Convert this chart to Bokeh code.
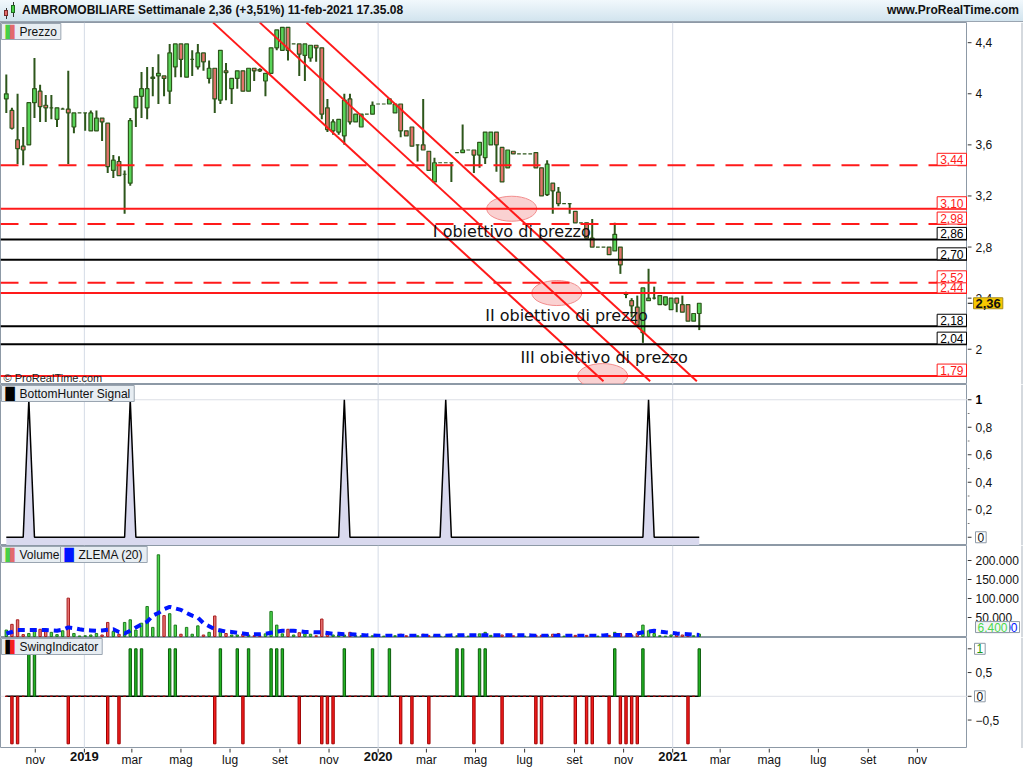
import pandas as pd
from bokeh.plotting import figure
from bokeh.models import Range1d, Label, Span, Div, ColumnDataSource
from bokeh.layouts import column, row
from bokeh.embed import file_html
from bokeh.resources import INLINE
from bokeh.core.properties import value

# ---------------- data ----------------
TITLE = "AMBROMOBILIARE Settimanale 2,36 (+3,51%) 11-feb-2021 17.35.08"
SITE = "www.ProRealTime.com"
# position of the most recent weekly bar on the time axis
LAST_BAR_POSITION = "2021-02-03"

OPEN = [3.96, 3.87, 3.64, 3.59, 3.60, 3.93, 4.02, 3.91, 3.89, 3.80,
        3.88, 3.88, 3.74, 3.85, 3.85, 3.71, 3.71, 3.81, 3.77, 3.40,
        3.47, 3.37, 3.30, 3.89, 3.98, 3.89, 4.12, 4.14, 4.14, 4.02,
        4.21, 4.39, 4.13, 4.27, 4.21, 4.32, 4.12, 4.20, 3.95, 4.18,
        4.04, 4.12, 4.18, 4.02, 4.20, 4.19, 4.10, 4.16, 4.36, 4.34,
        4.52, 4.39, 4.39, 4.30, 4.28, 4.38, 4.36, 3.89, 3.71, 3.70,
        3.67, 3.96, 3.78, 3.74, 3.84, 3.84, 3.92, 3.92, 3.92, 3.85,
        3.92, 3.71, 3.74, 3.60, 3.60, 3.55, 3.31, 3.46, 3.46, 3.46,
        3.54, 3.54, 3.56, 3.56, 3.52, 3.50, 3.60, 3.70, 3.58, 3.42,
        3.55, 3.53, 3.53, 3.53, 3.54, 3.42, 3.21, 3.30, 3.23, 3.14,
        3.14, 3.08, 2.99, 2.99, 2.87, 2.80, 2.80, 2.80, 2.77, 2.80,
        2.44, 2.38, 2.33, 2.13, 2.38, 2.40, 2.35, 2.35, 2.31, 2.40,
        2.35, 2.35, 2.22, 2.28]
HIGH = [4.15, 3.89, 4.00, 3.74, 3.93, 4.28, 4.07, 3.99, 3.99, 3.89,
        3.89, 4.18, 3.85, 3.85, 3.85, 3.87, 3.87, 3.81, 3.77, 3.52,
        3.51, 3.40, 3.81, 3.98, 4.17, 4.21, 4.21, 4.31, 4.14, 4.39,
        4.39, 4.39, 4.39, 4.34, 4.39, 4.32, 4.26, 4.20, 4.34, 4.24,
        4.12, 4.18, 4.18, 4.20, 4.20, 4.20, 4.16, 4.36, 4.50, 4.52,
        4.52, 4.39, 4.39, 4.39, 4.38, 4.38, 4.36, 3.96, 3.80, 3.80,
        4.00, 4.00, 3.84, 3.84, 3.84, 3.94, 3.92, 3.92, 3.96, 3.92,
        3.92, 3.71, 3.74, 3.60, 3.96, 3.55, 3.50, 3.46, 3.46, 3.46,
        3.54, 3.76, 3.56, 3.56, 3.62, 3.70, 3.70, 3.70, 3.58, 3.56,
        3.55, 3.53, 3.53, 3.53, 3.54, 3.42, 3.48, 3.30, 3.27, 3.14,
        3.14, 3.08, 2.99, 2.99, 3.02, 2.80, 2.80, 2.80, 2.99, 2.80,
        2.45, 2.40, 2.42, 2.48, 2.63, 2.49, 2.42, 2.41, 2.40, 2.40,
        2.42, 2.35, 2.28, 2.36]
LOW = [3.85, 3.72, 3.45, 3.44, 3.60, 3.81, 3.78, 3.78, 3.80, 3.74,
       3.88, 3.45, 3.69, 3.85, 3.71, 3.71, 3.71, 3.63, 3.38, 3.34,
       3.36, 3.06, 3.28, 3.74, 3.81, 3.80, 3.98, 3.92, 3.98, 3.92,
       4.13, 4.13, 4.13, 4.14, 4.19, 4.18, 4.08, 3.85, 3.92, 3.95,
       3.92, 4.04, 4.02, 4.02, 4.10, 4.17, 3.98, 4.16, 4.34, 4.34,
       4.26, 4.39, 4.14, 4.10, 4.25, 4.25, 3.80, 3.70, 3.68, 3.68,
       3.60, 3.76, 3.78, 3.74, 3.84, 3.84, 3.92, 3.92, 3.92, 3.85,
       3.66, 3.67, 3.59, 3.47, 3.56, 3.40, 3.31, 3.46, 3.46, 3.31,
       3.54, 3.54, 3.56, 3.38, 3.42, 3.45, 3.60, 3.39, 3.31, 3.42,
       3.53, 3.53, 3.53, 3.53, 3.42, 3.20, 3.20, 3.06, 3.12, 3.14,
       3.06, 2.99, 2.99, 2.87, 2.80, 2.80, 2.80, 2.74, 2.77, 2.59,
       2.40, 2.25, 2.18, 2.05, 2.38, 2.39, 2.35, 2.34, 2.31, 2.29,
       2.29, 2.22, 2.22, 2.15]
CLOSE = [4.00, 3.73, 3.57, 3.56, 3.93, 4.04, 3.90, 3.89, 3.89, 3.89,
         3.88, 3.85, 3.85, 3.85, 3.85, 3.85, 3.81, 3.78, 3.43, 3.48,
         3.36, 3.37, 3.79, 3.98, 4.04, 4.04, 4.13, 4.16, 4.12, 4.32,
         4.39, 4.27, 4.39, 4.27, 4.32, 4.25, 4.20, 3.96, 4.34, 4.165,
         4.12, 4.18, 4.02, 4.20, 4.18, 4.18, 4.16, 4.36, 4.50, 4.52,
         4.34, 4.39, 4.31, 4.39, 4.38, 4.36, 3.84, 3.72, 3.78, 3.80,
         3.95, 3.78, 3.84, 3.84, 3.84, 3.91, 3.92, 3.92, 3.96, 3.92,
         3.71, 3.67, 3.59, 3.60, 3.56, 3.40, 3.46, 3.46, 3.46, 3.46,
         3.54, 3.56, 3.56, 3.52, 3.62, 3.70, 3.70, 3.60, 3.31, 3.56,
         3.53, 3.53, 3.53, 3.53, 3.42, 3.20, 3.45, 3.24, 3.14, 3.14,
         3.14, 2.99, 2.99, 2.87, 2.80, 2.80, 2.80, 2.74, 2.90, 2.66,
         2.43, 2.34, 2.19, 2.48, 2.40, 2.40, 2.42, 2.41, 2.40, 2.36,
         2.29, 2.22, 2.28, 2.36]
VOLUME = [17000, 32000, 44000, 5000, 8000, 17000, 19000, 17000, 11000, 5000,
          15000, 101000, 8000, 1500, 2000, 4000, 8000, 4000, 37000, 13000,
          6000, 37000, 44000, 17000, 35000, 79000, 24000, 215000, 55000, 60000,
          30000, 6000, 24000, 6000, 28000, 4000, 11000, 54000, 19000, 8000,
          4000, 4000, 6000, 4000, 2000, 2000, 7000, 66000, 30000, 7000,
          19000, 4000, 10000, 7000, 6000, 2000, 46000, 8000, 4000, 4000,
          4000, 11000, 2000, 2000, 1000, 2000, 1000, 1000, 1000, 2000,
          6000, 2000, 4000, 2000, 6000, 2000, 2000, 1000, 1000, 1000,
          2000, 4000, 1000, 2000, 7000, 11000, 3000, 4000, 4000, 6000,
          2000, 1000, 1000, 1000, 3000, 3000, 4000, 6000, 8000, 1000,
          2000, 3000, 1000, 3000, 4000, 1000, 1000, 3000, 11000, 8000,
          2000, 4000, 8000, 30000, 15000, 8000, 2000, 1000, 4000, 6000,
          4000, 2000, 2000, 6400]
ZLEMA20 = [8000, 12000, 17000, 17000, 17000, 17000, 17000, 17000, 16000, 15000,
           18000, 24000, 22000, 19000, 17000, 16000, 15000, 16000, 18000, 19000,
           12000, 8000, 15000, 24000, 32000, 39000, 55000, 62000, 72000, 78000,
           74000, 70000, 62000, 55000, 50000, 35000, 27000, 19000, 16000, 13000,
           12000, 10000, 8000, 6000, 6000, 6000, 7000, 10000, 13000, 15000,
           15000, 15000, 14000, 12000, 12000, 11000, 11000, 9000, 7000, 7000,
           6000, 6000, 5000, 4000, 3000, 3000, 2000, 2000, 2000, 2000,
           2000, 2000, 2000, 2000, 2000, 2000, 2000, 2000, 2000, 3000,
           3000, 3000, 3000, 3000, 3000, 3000, 3000, 3000, 3000, 3000,
           3000, 3000, 3000, 3000, 2000, 2000, 2000, 2000, 2000, 2000,
           2000, 2000, 2000, 2000, 2000, 2000, 3000, 4000, 4000, 4000,
           4000, 4000, 8000, 11000, 13000, 15000, 13000, 11000, 10000, 8000,
           7000, 6000, 5000, 4000]
BOTTOM_HUNTER = [0, 0, 0, 0, 1, 0, 0, 0, 0, 0,
                 0, 0, 0, 0, 0, 0, 0, 0, 0, 0,
                 0, 0, 1, 0, 0, 0, 0, 0, 0, 0,
                 0, 0, 0, 0, 0, 0, 0, 0, 0, 0,
                 0, 0, 0, 0, 0, 0, 0, 0, 0, 0,
                 0, 0, 0, 0, 0, 0, 0, 0, 0, 0,
                 1, 0, 0, 0, 0, 0, 0, 0, 0, 0,
                 0, 0, 0, 0, 0, 0, 0, 0, 1, 0,
                 0, 0, 0, 0, 0, 0, 0, 0, 0, 0,
                 0, 0, 0, 0, 0, 0, 0, 0, 0, 0,
                 0, 0, 0, 0, 0, 0, 0, 0, 0, 0,
                 0, 0, 0, 0, 1, 0, 0, 0, 0, 0,
                 0, 0, 0, 0]
SWING = [0, -1, -1, 0, 1, 1, 0, 0, 0, 0,
         0, -1, 0, 0, 0, 0, 0, 0, -1, 0,
         -1, 0, 1, 1, 1, 0, 0, 0, 0, 1,
         1, 0, 0, 0, 0, 0, 0, -1, 1, 0,
         0, 1, -1, 1, 0, 0, 0, 1, 1, 1,
         0, 0, -1, 0, 0, 0, -1, -1, -1, 0,
         1, 0, 0, 0, 0, 1, 0, 0, 1, 0,
         -1, 0, -1, 0, 0, -1, 0, 0, 0, 0,
         1, 1, 0, -1, 1, 1, 0, 0, -1, 0,
         0, 0, 0, 0, -1, -1, 0, 0, 0, 0,
         0, -1, 0, -1, -1, 0, 0, -1, 1, -1,
         -1, -1, -1, 1, 0, 0, 0, 0, 0, 0,
         0, -1, 0, 1]

LEVELS = [3.44, 3.10, 2.98, 2.86, 2.70, 2.44, 2.52, 2.18, 2.04, 1.79]
LEVEL_KIND = ["red_dash", "red", "red_dash", "black", "black",
              "red", "red_dash", "black", "black", "red"]

CHANNEL_START_DATES = ["2019-06-10", "2019-08-07", "2019-10-04"]
CHANNEL_END_DATES = ["2020-10-07", "2020-12-04", "2021-01-31"]
CHANNEL_START_PRICE = [4.557, 4.557, 4.557]
CHANNEL_END_PRICE = [1.749, 1.749, 1.749]

TARGET_DATES = ["2020-06-15", "2020-08-10", "2020-10-06"]
TARGET_PRICES = [3.10, 2.44, 1.79]
TARGET_TEXTS = ["I obiettivo di prezzo", "II obiettivo di prezzo", "III obiettivo di prezzo"]
TEXT_DATES = ["2020-03-09", "2020-05-13", "2020-06-26"]
TEXT_PRICES = [2.925, 2.264, 1.937]

MONTH_NAMES = ["gen", "feb", "mar", "apr", "mag", "giu",
               "lug", "ago", "set", "ott", "nov", "dic"]
YEAR_LINES = ["2019-01-01", "2020-01-01", "2021-01-01"]

PRICE_TICKS = [2.0, 2.4, 2.8, 3.2, 3.6, 4.0, 4.4]
BH_TICKS = [0.2, 0.4, 0.6, 0.8]
BH_MINOR = [0.1, 0.3, 0.5, 0.7, 0.9]
VOL_TICKS = [50000, 100000, 150000, 200000]
SWING_TICKS = [-0.5, 0.5]

# ---------------- layout constants ----------------
DAY = 86400000.0


def ms(s):
    return pd.Timestamp(s).value / 1e6


def it_num(v, digits=2):
    s = ("%.*f" % (digits, v)).rstrip("0").rstrip(".")
    return s.replace(".", ",")


def it_thousands(v):
    return "{:,}".format(int(round(v))).replace(",", ".")


X_START, X_END = ms("2018-09-18 19:00"), ms("2022-01-02 07:00")
PRICE_RANGE = Range1d(1.724, 4.558)
BH_RANGE = Range1d(-0.060, 1.111)
VOL_RANGE = Range1d(-2600, 239500)
SWING_RANGE = Range1d(-1.099, 1.238)

W = 967
RB = 56
H_TITLE, H_PRICE, H_BH, H_VOL, H_SWING, H_AX = 22, 362, 161, 92, 111, 19
FONT = "Liberation Sans"
FRAME = "#8d99a6"
GRID = "#d5dbe6"
LEG_BG = "#e7edf2"
LEG_BORDER = "#9aa5b1"

dates = pd.date_range(end=LAST_BAR_POSITION, periods=len(CLOSE), freq="7D")
up = [c >= o for o, c in zip(OPEN, CLOSE)]

xr = Range1d(X_START, X_END)


def base_fig(fw, fh, x_range, y_range):
    p = figure(frame_width=fw, frame_height=fh, x_range=x_range, y_range=y_range,
               x_axis_location=None, y_axis_location=None, toolbar_location=None,
               output_backend="svg", min_border=0, background_fill_color="white",
               border_fill_color="white")
    p.grid.visible = False
    return p


def make_main(fh, yr):
    p = base_fig(W, fh, xr, yr)
    p.outline_line_color = FRAME
    p.outline_line_width = 1
    for d in YEAR_LINES:
        p.add_layout(Span(location=ms(d), dimension="height", line_color=GRID,
                          line_width=1, level="underlay"))
    return p


def make_side(fh, yr, ticks, labels, minor=()):
    s = base_fig(RB, fh, Range1d(0, RB), yr)
    s.outline_line_color = None
    s.add_layout(Span(location=RB - 1.5, dimension="height", line_color="#aab3bd",
                      line_width=1))
    s.segment(x0=0, y0=ticks, x1=4, y1=ticks, line_color="#333333", line_width=1)
    if minor:
        s.segment(x0=0, y0=list(minor), x1=2, y1=list(minor), line_color="#777777",
                  line_width=1)
    s.text(x=8, y=ticks, text=labels, text_font=value(FONT), text_font_size="12px",
           text_baseline="middle", text_align="left", text_color="#111111")
    return s


def legend_box(p, top, text, xoff, icons):
    p.add_layout(Label(x=X_START, y=top, x_offset=xoff, y_offset=-1, text=text,
                       text_align="left", text_baseline="top", text_font=FONT,
                       text_font_size="12px", text_color="#111111",
                       background_fill_color=LEG_BG, border_line_color=LEG_BORDER,
                       padding=dict(left=18, right=4, top=1, bottom=1)))
    for glyph, color, dx in icons:
        p.add_layout(Label(x=X_START, y=top, x_offset=xoff + dx, y_offset=-2,
                           text=glyph, text_align="left", text_baseline="top",
                           text_font="DejaVu Sans", text_font_size="12px",
                           text_color=color))


def value_box(s, yval, text, color, border, xoff=6, bold=False, bg="white",
              size="12px", yoff=0):
    s.add_layout(Label(x=xoff, y=yval, y_offset=yoff, text=text, text_align="left",
                       text_baseline="middle", text_font=FONT, text_font_size=size,
                       text_font_style="bold" if bold else "normal",
                       text_color=color, background_fill_color=bg,
                       border_line_color=border,
                       padding=dict(left=2, right=2, top=1, bottom=1)))


# ---------------- title bar ----------------
icon = ('<span style="display:inline-block;position:relative;width:16px;height:18px;margin:0 3px 0 3px;">'
        '<span style="position:absolute;left:3px;top:6px;width:1px;height:11px;background:#333;"></span>'
        '<span style="position:absolute;left:1px;top:8px;width:4px;height:6px;background:#e26a6a;border:1px solid #7a2a2a;"></span>'
        '<span style="position:absolute;left:10px;top:0px;width:1px;height:15px;background:#333;"></span>'
        '<span style="position:absolute;left:8px;top:3px;width:4px;height:8px;background:#46d046;border:1px solid #1f6a1f;"></span>'
        '</span>')
title_html = ('<div style="width:%dpx;height:%dpx;box-sizing:border-box;'
              'background:linear-gradient(#f1f8fc,#d2e4ee);border-bottom:1px solid #9aa5b1;'
              'display:flex;align-items:center;justify-content:space-between;'
              'font-family:\'Liberation Sans\';font-weight:bold;font-size:12px;color:#111;">'
              '<span style="display:flex;align-items:center;">' % (W + RB, H_TITLE)
              + icon + TITLE + '</span>'
              '<span style="padding-right:4px;">' + SITE + '</span></div>')
title_div = Div(text=title_html, width=W + RB, height=H_TITLE, margin=0)

# ---------------- price panel ----------------
pp = make_main(H_PRICE, PRICE_RANGE)

csrc = ColumnDataSource(dict(
    x=dates, high=HIGH, low=LOW,
    top=[max(o, c) for o, c in zip(OPEN, CLOSE)],
    bottom=[min(o, c) for o, c in zip(OPEN, CLOSE)],
    color=["#58d458" if u else "#e2736b" for u in up]))

pp.ellipse(x=[ms(d) for d in TARGET_DATES], y=TARGET_PRICES, width=50, height=25,
           width_units="screen", height_units="screen",
           fill_color="#f6b3b3", fill_alpha=0.6, line_color="#f28c8c", line_width=1)

pp.segment(x0="x", y0="high", x1="x", y1="low", source=csrc, line_color="#2d561b",
           line_width=2)
pp.vbar(x="x", top="top", bottom="bottom", width=4.6 * DAY, source=csrc,
        fill_color="color", line_color="#2d561b", line_width=1.2)

pp.segment(x0=[ms(d) for d in CHANNEL_START_DATES], y0=CHANNEL_START_PRICE,
           x1=[ms(d) for d in CHANNEL_END_DATES], y1=CHANNEL_END_PRICE,
           line_color="#ff1a1a", line_width=2)

for lvl, kind in zip(LEVELS, LEVEL_KIND):
    col = "#000000" if kind == "black" else "#ff1a1a"
    pp.add_layout(Span(location=lvl, dimension="width", line_color=col, line_width=2,
                       line_dash="18 11" if kind == "red_dash" else "solid"))
for lvl, kind in zip(LEVELS, LEVEL_KIND):
    col = "#000000" if kind == "black" else "#ff1a1a"
    pp.add_layout(Label(x=X_END, y=lvl, x_offset=-1, y_offset=0,
                        text=("%.2f" % lvl).replace(".", ","),
                        text_align="right", text_baseline="bottom", text_font=FONT,
                        text_font_size="12px", text_color=col,
                        background_fill_color="white", border_line_color=col,
                        padding=dict(left=3, right=3, top=2, bottom=1)))

for t, d, pr in zip(TARGET_TEXTS, TEXT_DATES, TEXT_PRICES):
    pp.add_layout(Label(x=ms(d), y=pr, text=t, text_align="left",
                        text_baseline="middle", text_font="DejaVu Sans",
                        text_font_size="16px", text_color="#111111"))

pp.add_layout(Label(x=X_START, y=PRICE_RANGE.start, x_offset=3, y_offset=1,
                    text="\u00a9 ProRealTime.com", text_align="left",
                    text_baseline="bottom", text_font=FONT, text_font_size="11px",
                    text_color="#222222"))
legend_box(pp, PRICE_RANGE.end, "Prezzo", 1, [("\u258c", "#46d046", 4), ("\u2590", "#e26a6a", 4)])

sp = make_side(H_PRICE, PRICE_RANGE, PRICE_TICKS, [it_num(t) for t in PRICE_TICKS])
sp.segment(x0=0, y0=[CLOSE[-1]], x1=5, y1=[CLOSE[-1]], line_color="#000000", line_width=1)
value_box(sp, CLOSE[-1], it_num(CLOSE[-1]), "#111111", "#a88c1e", xoff=6, bold=True,
          bg="#f7c800", size="13px")

# ---------------- BottomHunter panel ----------------
pb = make_main(H_BH, BH_RANGE)
pb.add_layout(Span(location=1, dimension="width", line_color="#dcdfe6", line_width=1,
                   level="underlay"))
pb.varea(x=dates, y1=BH_RANGE.start, y2=BOTTOM_HUNTER, fill_color="#d9d9ee")
pb.line(x=dates, y=BOTTOM_HUNTER, line_color="#000000", line_width=1.5)
legend_box(pb, BH_RANGE.end, "BottomHunter Signal", 1, [("\u2588", "#000000", 4)])

sb = make_side(H_BH, BH_RANGE, BH_TICKS + [0, 1], [it_num(t, 1) for t in BH_TICKS] + ["", ""],
               minor=BH_MINOR)
sb.text(x=8, y=[max(BOTTOM_HUNTER)], text=[str(max(BOTTOM_HUNTER))], text_font=value(FONT),
        text_font_size="12px", text_font_style="bold", text_baseline="middle",
        text_align="left", text_color="#000000")
value_box(sb, BOTTOM_HUNTER[-1], str(BOTTOM_HUNTER[-1]), "#111111", "#8d99a6", xoff=8)

# ---------------- Volume panel ----------------
pv = make_main(H_VOL, VOL_RANGE)
vsrc = ColumnDataSource(dict(
    x=dates, v=VOLUME,
    fill=["#4cd84c" if u else "#e87272" for u in up],
    line=["#1f7a1f" if u else "#a82020" for u in up]))
pv.vbar(x="x", top="v", bottom=0, width=3.0 * DAY, source=vsrc, fill_color="fill",
        line_color="line", line_width=1)
pv.line(x=dates, y=ZLEMA20, line_color="#0015ff", line_width=4, line_dash="7 5")
legend_box(pv, VOL_RANGE.end, "Volume", 1, [("\u258c", "#46d046", 4), ("\u2590", "#e26a6a", 4)])
legend_box(pv, VOL_RANGE.end, "ZLEMA (20)", 60, [("\u2588", "#0015ff", 4)])

sv = make_side(H_VOL, VOL_RANGE, VOL_TICKS, [it_thousands(t) for t in VOL_TICKS])
value_box(sv, VOLUME[-1], it_thousands(ZLEMA20[-1]), "#0015ff", "#8d99a6", xoff=18, yoff=7)
value_box(sv, VOLUME[-1], it_thousands(VOLUME[-1]), "#4cd84c", "#8d99a6", xoff=8,
          bg="#f4f6f8", yoff=7)

# ---------------- Swing panel ----------------
ps = make_main(H_SWING, SWING_RANGE)
ps.add_layout(Span(location=0, dimension="width", line_color="#dcdfe6", line_width=1,
                   level="underlay"))
ssrc = ColumnDataSource(dict(
    x=dates, s=SWING,
    fill=["#22b422" if s > 0 else "#f51e1e" for s in SWING],
    line=["#0d5e0d" if s > 0 else "#9e0000" for s in SWING]))
ps.line(x=dates, y=[0 * s for s in SWING], line_color="#000000", line_width=1.5)
ps.vbar(x="x", top="s", bottom=0, width=3.0 * DAY, source=ssrc, fill_color="fill",
        line_color="line", line_width=1)
legend_box(ps, SWING_RANGE.end, "SwingIndicator", 1,
           [("\u258c", "#000000", 4), ("\u2590", "#f51e1e", 4)])

ss = make_side(H_SWING, SWING_RANGE, SWING_TICKS + [0, 1],
               [("\u2212" if t < 0 else "") + it_num(abs(t), 1) for t in SWING_TICKS] + ["", ""])
value_box(ss, SWING[-1], str(SWING[-1]), "#1a9a1a", "#8d99a6", xoff=7)
value_box(ss, 0, "0", "#111111", "#8d99a6", xoff=7)

# ---------------- time axis ----------------
month_ticks = pd.date_range("2018-11-01", "2021-11-01", freq="2MS")
xf = base_fig(W, H_AX, xr, Range1d(0, H_AX))
xf.min_border_right = RB
xf.outline_line_color = None
tick_x = [ms(d) for d in month_ticks]
xf.segment(x0=tick_x, y0=H_AX, x1=tick_x, y1=H_AX - 4, line_color="#333333", line_width=1)
mon = [d for d in month_ticks if d.month != 1]
yrs = [d for d in month_ticks if d.month == 1]
xf.text(x=[ms(d) for d in mon], y=H_AX - 4, text=[MONTH_NAMES[d.month - 1] for d in mon],
        text_font=value(FONT), text_font_size="12px", text_align="center",
        text_baseline="top", text_color="#111111")
xf.text(x=[ms(d) for d in yrs], y=H_AX - 3, text=[str(d.year) for d in yrs],
        text_font=value(FONT), text_font_size="13px", text_font_style="bold",
        text_align="center", text_baseline="top", text_color="#111111")

layout = column(title_div,
                row(pp, sp, spacing=0),
                row(pb, sb, spacing=0),
                row(pv, sv, spacing=0),
                row(ps, ss, spacing=0),
                xf, spacing=0)
open("out.html", "w").write(file_html(layout, INLINE))
